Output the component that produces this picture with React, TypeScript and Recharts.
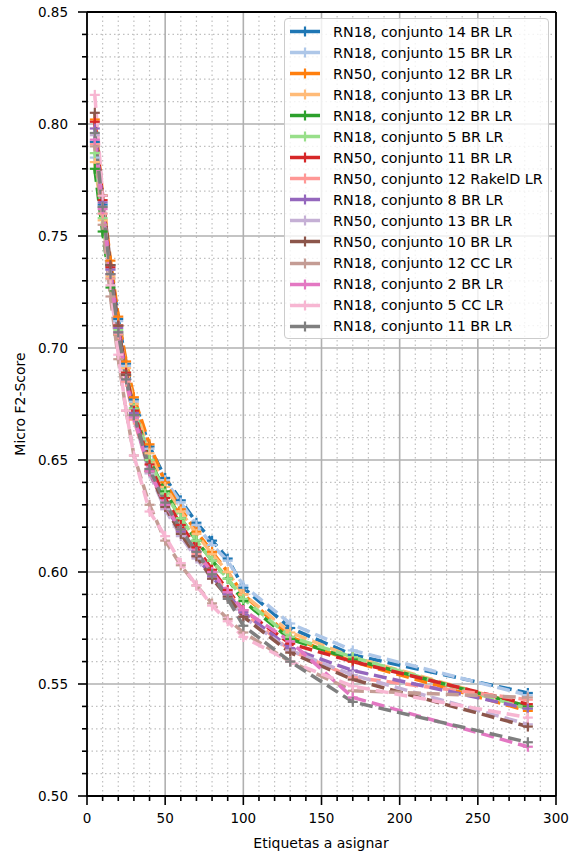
import React from 'react';
import { LineChart, Line, XAxis, YAxis, ReferenceLine } from 'recharts';

const FONT = '"DejaVu Sans", sans-serif';

const X = [5, 10, 15, 20, 25, 30, 40, 50, 60, 70, 80, 90, 100, 130, 170, 282];

const rn18c14 = [0.792, 0.764, 0.737, 0.713, 0.693, 0.677, 0.656, 0.642, 0.632, 0.622, 0.614, 0.606, 0.593, 0.575, 0.563, 0.546];
const rn18c15 = [0.785, 0.76, 0.735, 0.712, 0.692, 0.676, 0.655, 0.641, 0.631, 0.621, 0.612, 0.605, 0.594, 0.577, 0.565, 0.545];
const rn50c12 = [0.802, 0.768, 0.739, 0.714, 0.694, 0.678, 0.657, 0.64, 0.628, 0.618, 0.609, 0.6, 0.59, 0.571, 0.56, 0.538];
const rn18c13 = [0.783, 0.757, 0.732, 0.71, 0.691, 0.675, 0.653, 0.638, 0.627, 0.617, 0.608, 0.6, 0.59, 0.573, 0.562, 0.54];
const rn18c12 = [0.78, 0.752, 0.727, 0.706, 0.688, 0.673, 0.65, 0.636, 0.624, 0.614, 0.605, 0.597, 0.587, 0.57, 0.561, 0.54];
const rn18c5 = [0.787, 0.758, 0.731, 0.708, 0.689, 0.673, 0.65, 0.635, 0.624, 0.614, 0.605, 0.597, 0.588, 0.571, 0.562, 0.539];
const rn50c11 = [0.801, 0.766, 0.736, 0.71, 0.689, 0.672, 0.648, 0.633, 0.621, 0.611, 0.601, 0.592, 0.583, 0.568, 0.56, 0.541];
const rn50c12rakel = [0.791, 0.76, 0.731, 0.706, 0.685, 0.668, 0.645, 0.63, 0.618, 0.608, 0.599, 0.591, 0.582, 0.565, 0.553, 0.543];
const rn18c8 = [0.798, 0.765, 0.735, 0.709, 0.688, 0.671, 0.646, 0.63, 0.618, 0.607, 0.598, 0.59, 0.582, 0.566, 0.556, 0.539];
const rn50c13 = [0.795, 0.763, 0.733, 0.707, 0.686, 0.669, 0.644, 0.628, 0.616, 0.606, 0.597, 0.589, 0.58, 0.565, 0.554, 0.532];
const rn50c10 = [0.805, 0.768, 0.737, 0.71, 0.688, 0.67, 0.645, 0.629, 0.617, 0.607, 0.597, 0.589, 0.58, 0.564, 0.552, 0.531];
const rn18c12cc = [0.79, 0.755, 0.723, 0.695, 0.672, 0.652, 0.63, 0.614, 0.603, 0.594, 0.586, 0.579, 0.573, 0.56, 0.547, 0.544];
const rn18c2 = [0.793, 0.762, 0.733, 0.707, 0.686, 0.669, 0.645, 0.63, 0.619, 0.609, 0.6, 0.591, 0.583, 0.569, 0.544, 0.522];
const rn18c5cc = [0.813, 0.768, 0.728, 0.697, 0.672, 0.652, 0.627, 0.616, 0.604, 0.594, 0.585, 0.578, 0.571, 0.56, 0.549, 0.535];
const rn18c11 = [0.796, 0.763, 0.733, 0.707, 0.686, 0.67, 0.646, 0.631, 0.619, 0.609, 0.599, 0.588, 0.576, 0.56, 0.542, 0.524];

const SERIES = [
  { name: 'RN18, conjunto 14 BR LR', color: '#1f77b4', values: rn18c14 },
  { name: 'RN18, conjunto 15 BR LR', color: '#aec7e8', values: rn18c15 },
  { name: 'RN50, conjunto 12 BR LR', color: '#ff7f0e', values: rn50c12 },
  { name: 'RN18, conjunto 13 BR LR', color: '#ffbb78', values: rn18c13 },
  { name: 'RN18, conjunto 12 BR LR', color: '#2ca02c', values: rn18c12 },
  { name: 'RN18, conjunto 5 BR LR', color: '#98df8a', values: rn18c5 },
  { name: 'RN50, conjunto 11 BR LR', color: '#d62728', values: rn50c11 },
  { name: 'RN50, conjunto 12 RakelD LR', color: '#ff9896', values: rn50c12rakel },
  { name: 'RN18, conjunto 8 BR LR', color: '#9467bd', values: rn18c8 },
  { name: 'RN50, conjunto 13 BR LR', color: '#c5b0d5', values: rn50c13 },
  { name: 'RN50, conjunto 10 BR LR', color: '#8c564b', values: rn50c10 },
  { name: 'RN18, conjunto 12 CC LR', color: '#c49c94', values: rn18c12cc },
  { name: 'RN18, conjunto 2 BR LR', color: '#e377c2', values: rn18c2 },
  { name: 'RN18, conjunto 5 CC LR', color: '#f7b6d2', values: rn18c5cc },
  { name: 'RN18, conjunto 11 BR LR', color: '#7f7f7f', values: rn18c11 },
];

const X_MAJOR = [0, 50, 100, 150, 200, 250, 300];
const X_MINOR = [10, 20, 30, 40, 60, 70, 80, 90, 110, 120, 130, 140, 160, 170, 180, 190, 210, 220, 230, 240, 260, 270, 280, 290];
const Y_MAJOR = [0.5, 0.55, 0.6, 0.65, 0.7, 0.75, 0.8, 0.85];
const Y_MINOR = [
  0.51, 0.52, 0.53, 0.54, 0.56, 0.57, 0.58, 0.59, 0.61, 0.62, 0.63, 0.64,
  0.66, 0.67, 0.68, 0.69, 0.71, 0.72, 0.73, 0.74, 0.76, 0.77, 0.78, 0.79,
  0.81, 0.82, 0.83, 0.84,
];

const data = X.map((x, i) => {
  const row: Record<string, number> = { x };
  SERIES.forEach((s, k) => {
    row[`s${k}`] = s.values[i];
  });
  return row;
});

function Plus({ cx, cy, color, r = 5 }: { cx: number; cy: number; color: string; r?: number }) {
  return (
    <g>
      <line x1={cx - r} x2={cx + r} y1={cy} y2={cy} stroke={color} strokeWidth={2.2} />
      <line x1={cx} x2={cx} y1={cy - r} y2={cy + r} stroke={color} strokeWidth={2.2} />
    </g>
  );
}

function YTick(props: any) {
  const { x, y, payload } = props;
  const major = Y_MAJOR.includes(payload.value);
  return (
    <g>
      <line x1={x} x2={x - (major ? 9 : 5)} y1={y} y2={y} stroke="#000" strokeWidth={1.6} />
      {major && (
        <text x={x - 19} y={y} dy="0.36em" textAnchor="end" fontFamily={FONT} fontSize={13.5} fill="#000">
          {payload.value.toFixed(2)}
        </text>
      )}
    </g>
  );
}

function XTick(props: any) {
  const { x, y, payload } = props;
  const major = X_MAJOR.includes(payload.value);
  return (
    <g>
      <line x1={x} x2={x} y1={y} y2={y + (major ? 9 : 5)} stroke="#000" strokeWidth={1.6} />
      {major && (
        <text x={x} y={y + 22} dy="0.36em" textAnchor="middle" fontFamily={FONT} fontSize={13.5} fill="#000">
          {payload.value}
        </text>
      )}
    </g>
  );
}

function LegendBox() {
  return (
    <div
      style={{
        position: 'absolute',
        left: 284,
        top: 18,
        width: 265,
        height: 321,
        boxSizing: 'border-box',
        background: 'rgba(255,255,255,0.8)',
        border: '1px solid #cccccc',
        borderRadius: 4,
        paddingTop: 2,
        fontFamily: FONT,
        fontSize: 14.3,
        color: '#000',
      }}
    >
      {SERIES.map((s) => (
        <div key={s.name} style={{ display: 'flex', alignItems: 'center', height: 21.05 }}>
          <svg width={30} height={21} style={{ marginLeft: 5, marginRight: 13, flex: 'none' }}>
            <line x1={0} x2={30} y1={10.5} y2={10.5} stroke={s.color} strokeWidth={3.5} />
            <Plus cx={15} cy={10.5} color={s.color} />
          </svg>
          <span style={{ whiteSpace: 'nowrap' }}>{s.name}</span>
        </div>
      ))}
    </div>
  );
}

export default function App() {
  const xTicks = [...X_MAJOR, ...X_MINOR].sort((a, b) => a - b);
  const yTicks = [...Y_MAJOR, ...Y_MINOR].sort((a, b) => a - b);
  return (
    <div style={{ position: 'absolute', left: 0, top: 0, width: 569, height: 852, background: '#fff' }}>
      <LineChart width={569} height={852} data={data} margin={{ top: 12, right: 13, left: 0, bottom: 0 }}>
        {Y_MINOR.map((v) => (
          <ReferenceLine key={`ym${v}`} y={v} stroke="#c0c0c0" strokeWidth={1.2} strokeDasharray="1.5 3" />
        ))}
        {X_MINOR.map((v) => (
          <ReferenceLine key={`xm${v}`} x={v} stroke="#c0c0c0" strokeWidth={1.2} strokeDasharray="1.5 3" />
        ))}
        {Y_MAJOR.map((v) => (
          <ReferenceLine key={`yM${v}`} y={v} stroke="#b0b0b0" strokeWidth={1.6} />
        ))}
        {X_MAJOR.map((v) => (
          <ReferenceLine key={`xM${v}`} x={v} stroke="#b0b0b0" strokeWidth={1.6} />
        ))}
        <XAxis
          type="number"
          dataKey="x"
          domain={[0, 300]}
          ticks={xTicks}
          interval={0}
          height={56}
          tickSize={0}
          tickMargin={0}
          tickLine={false}
          axisLine={{ stroke: '#000', strokeWidth: 1.8 }}
          tick={<XTick />}
        />
        <YAxis
          type="number"
          domain={[0.5, 0.85]}
          ticks={yTicks}
          interval={0}
          width={87}
          tickSize={0}
          tickMargin={0}
          tickLine={false}
          axisLine={{ stroke: '#000', strokeWidth: 1.8 }}
          tick={<YTick />}
        />
        {SERIES.map((s, k) => (
          <Line
            key={s.name}
            type="linear"
            dataKey={`s${k}`}
            name={s.name}
            stroke={s.color}
            strokeWidth={3.5}
            strokeDasharray="13 6"
            dot={(p: any) => <Plus key={`${k}-${p.index}`} cx={p.cx} cy={p.cy} color={s.color} />}
            activeDot={false}
            isAnimationActive={false}
          />
        ))}
        <ReferenceLine y={0.85} stroke="#000" strokeWidth={1.8} />
        <ReferenceLine x={300} stroke="#000" strokeWidth={1.8} />
      </LineChart>
      <div
        style={{
          position: 'absolute',
          left: 20,
          top: 404,
          transform: 'translate(-50%, -50%) rotate(-90deg)',
          fontFamily: FONT,
          fontSize: 14,
          whiteSpace: 'nowrap',
          color: '#000',
        }}
      >
        Micro F2-Score
      </div>
      <div
        style={{
          position: 'absolute',
          left: 321,
          top: 843,
          transform: 'translate(-50%, -50%)',
          fontFamily: FONT,
          fontSize: 14,
          whiteSpace: 'nowrap',
          color: '#000',
        }}
      >
        Etiquetas a asignar
      </div>
      <LegendBox />
    </div>
  );
}
